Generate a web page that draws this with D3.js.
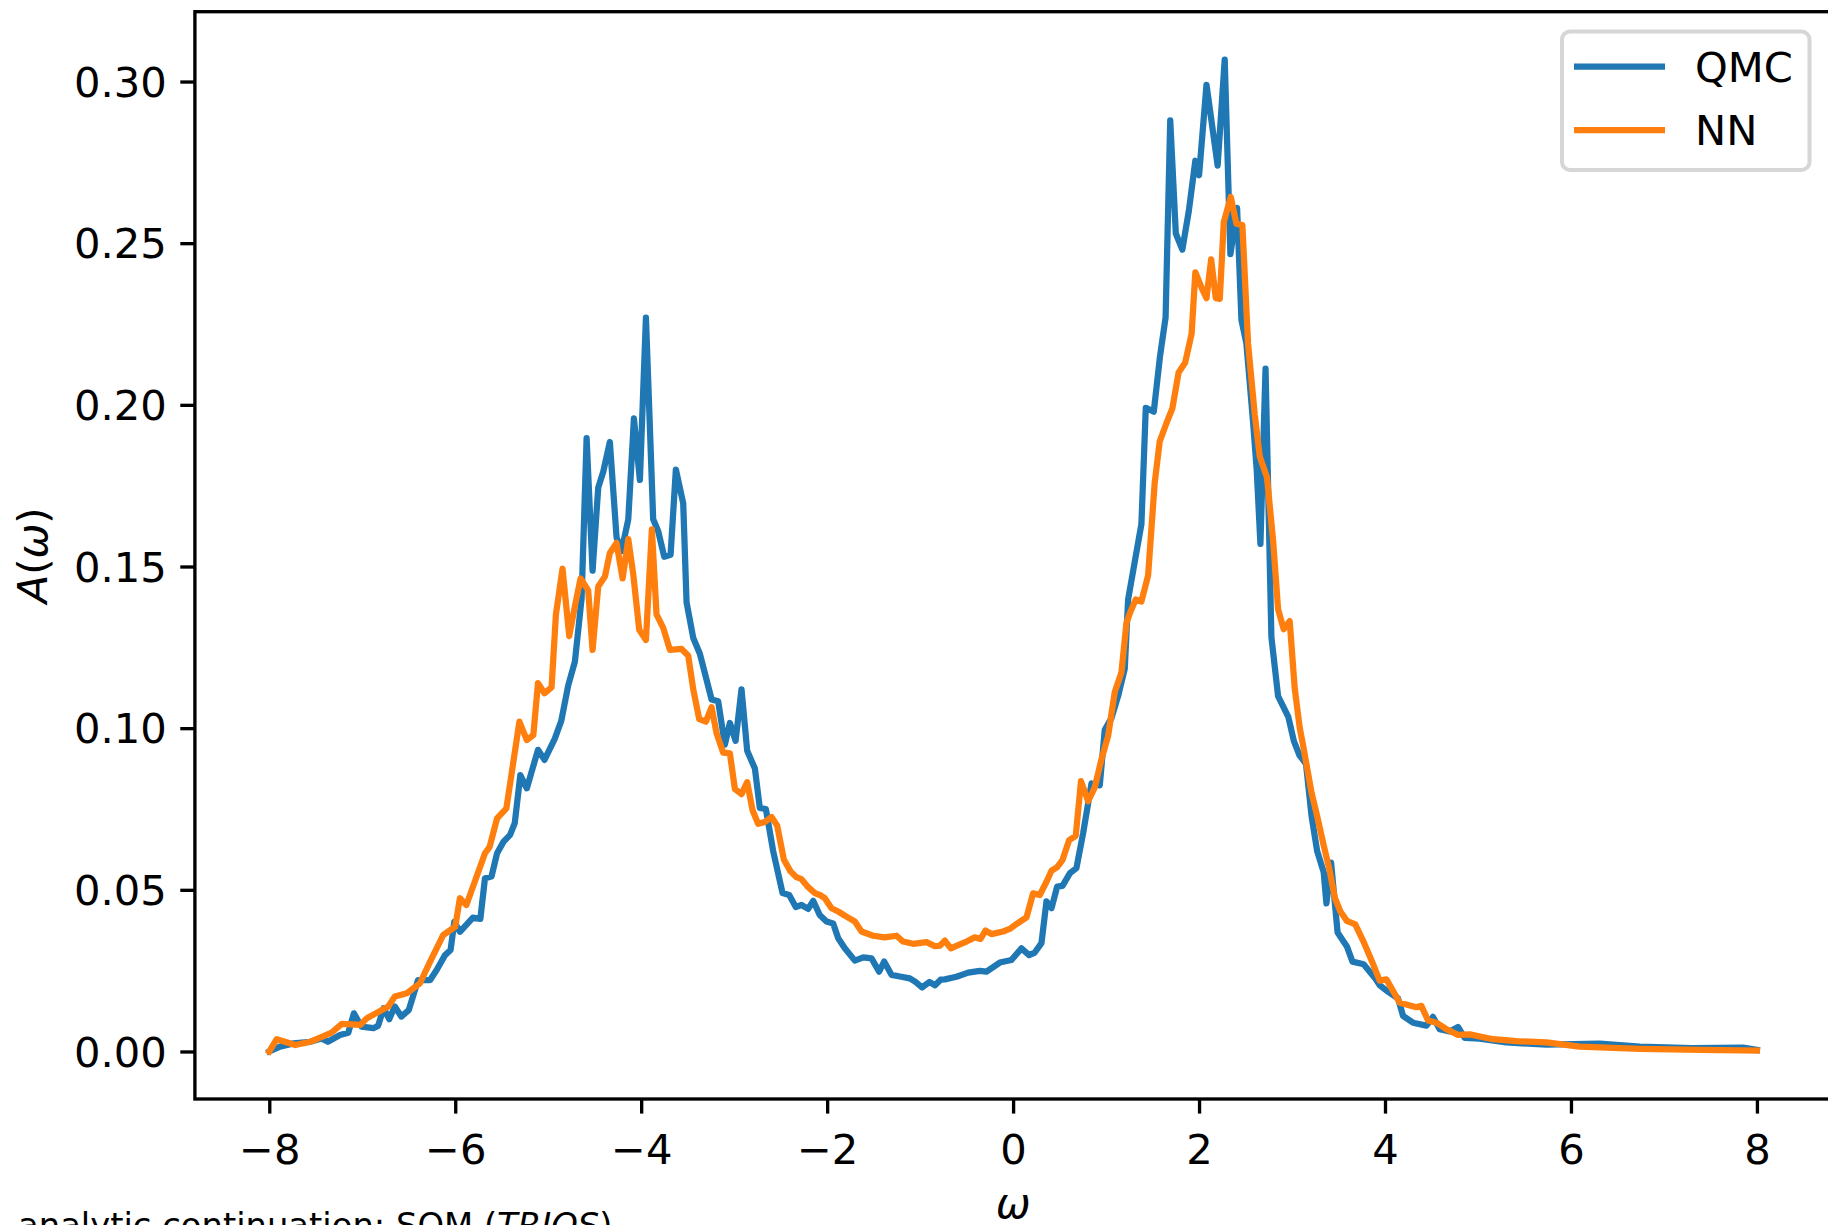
<!DOCTYPE html>
<html>
<head>
<meta charset="utf-8">
<script src="https://cdn.jsdelivr.net/npm/d3@7"></script>
<style>
    html, body { margin: 0; padding: 0; background: #fff; overflow: hidden; }
    svg { display: block; font-family: "DejaVu Sans", sans-serif; }
</style>
</head>
<body>
<div id="chart"></div>
<script>
// QMC spectral function
const qmcOmega = [
    -8.00, -7.885, -7.74, -7.56, -7.44, -7.37, -7.24, -7.15, -7.09, -7.01,
    -6.88, -6.83, -6.77, -6.71, -6.65, -6.58, -6.50, -6.40, -6.27, -6.20,
    -6.11, -6.05, -6.01, -5.95, -5.81, -5.73, -5.68, -5.61, -5.55, -5.48,
    -5.41, -5.36, -5.30, -5.23, -5.11, -5.04, -4.93, -4.86, -4.785, -4.713,
    -4.641, -4.587, -4.523, -4.462, -4.408, -4.337, -4.265, -4.211, -4.139, -4.078,
    -4.014, -3.949, -3.871, -3.817, -3.752, -3.684, -3.627, -3.548, -3.512, -3.44,
    -3.369, -3.243, -3.172, -3.10, -3.046, -2.985, -2.921, -2.86, -2.777, -2.724,
    -2.659, -2.58, -2.48, -2.408, -2.337, -2.276, -2.204, -2.15, -2.08, -2.007,
    -1.935, -1.881, -1.81, -1.702, -1.612, -1.523, -1.441, -1.387, -1.308, -1.218,
    -1.111, -1.05, -0.98, -0.90, -0.84, -0.78, -0.734, -0.609, -0.483, -0.358,
    -0.286, -0.143, -0.018, 0.09, 0.172, 0.233, 0.305, 0.359, 0.413, 0.474,
    0.531, 0.61, 0.681, 0.753, 0.843, 0.932, 0.986, 1.058, 1.129, 1.201,
    1.237, 1.308, 1.38, 1.427, 1.513, 1.58, 1.64, 1.69, 1.75, 1.82,
    1.89, 1.96, 2.00, 2.08, 2.20, 2.276, 2.337, 2.409, 2.456, 2.509,
    2.58, 2.62, 2.66, 2.715, 2.778, 2.85, 2.96, 3.02, 3.08, 3.15,
    3.21, 3.27, 3.34, 3.37, 3.42, 3.49, 3.59, 3.65, 3.77, 3.90,
    3.943, 4.033, 4.14, 4.194, 4.301, 4.445, 4.516, 4.588, 4.696, 4.785,
    4.857, 5.018, 5.305, 5.735, 6.308, 6.74, 7.30, 7.85, 8.00
];
const qmcValues = [
    0.0000, 0.0015, 0.0025, 0.0030, 0.0040, 0.0030, 0.0051, 0.0058, 0.0118, 0.0077,
    0.0072, 0.0079, 0.0134, 0.0100, 0.0139, 0.0108, 0.0128, 0.0221, 0.0221, 0.0252,
    0.0298, 0.0314, 0.0401, 0.0370, 0.0414, 0.0410, 0.0536, 0.0541, 0.0613, 0.0649,
    0.0670, 0.0706, 0.0855, 0.0814, 0.0933, 0.0902, 0.0967, 0.1022, 0.1132, 0.1206,
    0.1401, 0.1897, 0.1487, 0.1744, 0.1793, 0.1885, 0.1590, 0.1548, 0.1646, 0.1958,
    0.1768, 0.2270, 0.1646, 0.1609, 0.1530, 0.1536, 0.1800, 0.1695, 0.1389, 0.1279,
    0.1230, 0.1089, 0.1083, 0.0949, 0.1016, 0.0961, 0.1120, 0.0930, 0.0875, 0.0753,
    0.0750, 0.0619, 0.0490, 0.0484, 0.0447, 0.0453, 0.0441, 0.0466, 0.0422, 0.0402,
    0.0396, 0.0350, 0.0319, 0.0281, 0.0291, 0.0288, 0.0247, 0.0278, 0.0237, 0.0232,
    0.0226, 0.0215, 0.0198, 0.0215, 0.0205, 0.0222, 0.0223, 0.0231, 0.0244, 0.0249,
    0.0247, 0.0275, 0.0283, 0.0319, 0.0298, 0.0306, 0.0335, 0.0464, 0.0443, 0.0510,
    0.0512, 0.0551, 0.0567, 0.0675, 0.0829, 0.0823, 0.0995, 0.1031, 0.1099, 0.1184,
    0.1398, 0.1514, 0.1631, 0.1991, 0.1979, 0.2150, 0.2270, 0.2880, 0.2530, 0.2480,
    0.2600, 0.2755, 0.2710, 0.2990, 0.2740, 0.3068, 0.2466, 0.2609, 0.2262, 0.2190,
    0.1950, 0.1800, 0.1570, 0.2112, 0.1282, 0.1099, 0.1035, 0.0960, 0.0916, 0.0890,
    0.0728, 0.0620, 0.0555, 0.0458, 0.0584, 0.0368, 0.0325, 0.0278, 0.0270, 0.0224,
    0.0205, 0.0185, 0.0164, 0.0110, 0.0089, 0.0080, 0.0107, 0.0069, 0.0062, 0.0076,
    0.0042, 0.0040, 0.0028, 0.0021, 0.0024, 0.0015, 0.0010, 0.0012, 0.0005
];

// NN prediction
const nnOmega = [
    -8.00, -7.92, -7.72, -7.56, -7.33, -7.22, -7.02, -6.95, -6.72, -6.65,
    -6.52, -6.38, -6.27, -6.13, -6.00, -5.95, -5.88, -5.68, -5.63, -5.55,
    -5.45, -5.31, -5.23, -5.16, -5.11, -5.04, -4.964, -4.917, -4.846, -4.774,
    -4.713, -4.652, -4.57, -4.523, -4.462, -4.39, -4.337, -4.265, -4.20, -4.139,
    -4.085, -4.021, -3.949, -3.885, -3.835, -3.763, -3.691, -3.566, -3.494, -3.44,
    -3.376, -3.304, -3.243, -3.19, -3.118, -3.046, -2.992, -2.921, -2.86, -2.803,
    -2.742, -2.67, -2.598, -2.537, -2.466, -2.394, -2.33, -2.276, -2.204, -2.132,
    -2.079, -2.025, -1.953, -1.881, -1.792, -1.702, -1.63, -1.505, -1.38, -1.254,
    -1.183, -1.075, -0.932, -0.842, -0.788, -0.734, -0.67, -0.591, -0.501, -0.412,
    -0.351, -0.297, -0.233, -0.107, -0.036, 0.036, 0.144, 0.215, 0.287, 0.359,
    0.413, 0.474, 0.531, 0.603, 0.674, 0.730, 0.807, 0.878, 0.95, 1.022,
    1.093, 1.165, 1.219, 1.255, 1.319, 1.38, 1.452, 1.523, 1.577, 1.649,
    1.713, 1.78, 1.85, 1.92, 1.96, 2.03, 2.08, 2.13, 2.18, 2.223,
    2.266, 2.341, 2.402, 2.466, 2.527, 2.599, 2.653, 2.731, 2.796, 2.85,
    2.91, 2.975, 3.029, 3.083, 3.12, 3.21, 3.27, 3.34, 3.40, 3.46,
    3.52, 3.59, 3.68, 3.77, 3.86, 3.943, 4.015, 4.158, 4.337, 4.391,
    4.463, 4.552, 4.66, 4.785, 4.911, 5.162, 5.413, 5.735, 6.093, 6.74,
    7.40, 8.00
];
const nnValues = [
    0.0000, 0.0038, 0.0020, 0.0030, 0.0058, 0.0085, 0.0082, 0.0103, 0.0139, 0.0170,
    0.0180, 0.0211, 0.0278, 0.0360, 0.0386, 0.0474, 0.0453, 0.0613, 0.0633, 0.0721,
    0.0752, 0.1020, 0.0963, 0.0979, 0.1139, 0.1108, 0.1126, 0.1352, 0.1493, 0.1285,
    0.1377, 0.1463, 0.1426, 0.1242, 0.1438, 0.1469, 0.1542, 0.1573, 0.1463, 0.1585,
    0.1475, 0.1304, 0.1273, 0.1615, 0.1352, 0.1310, 0.1242, 0.1245, 0.1224, 0.1120,
    0.1028, 0.1020, 0.1065, 0.0985, 0.0924, 0.0922, 0.0812, 0.0796, 0.0833, 0.0747,
    0.0704, 0.0710, 0.0725, 0.0698, 0.0594, 0.0557, 0.0539, 0.0533, 0.0508, 0.0490,
    0.0484, 0.0474, 0.0443, 0.0433, 0.0417, 0.0402, 0.0371, 0.0358, 0.0353, 0.0358,
    0.0340, 0.0333, 0.0338, 0.0326, 0.0327, 0.0343, 0.0319, 0.0329, 0.0340, 0.0353,
    0.0348, 0.0374, 0.0363, 0.0371, 0.0379, 0.0394, 0.0415, 0.0489, 0.0484, 0.0525,
    0.0559, 0.0570, 0.0592, 0.0654, 0.0667, 0.0836, 0.0774, 0.0817, 0.0903, 0.0976,
    0.1111, 0.1172, 0.1325, 0.1355, 0.1398, 0.1392, 0.1472, 0.1759, 0.1887, 0.1943,
    0.1989, 0.2100, 0.2130, 0.2220, 0.2410, 0.2360, 0.2330, 0.2450, 0.2330, 0.2328,
    0.2565, 0.2643, 0.2560, 0.2556, 0.2190, 0.1970, 0.1840, 0.1775, 0.1582, 0.1368,
    0.1306, 0.1331, 0.1123, 0.1001, 0.0945, 0.0800, 0.0728, 0.0638, 0.0566, 0.0476,
    0.0433, 0.0404, 0.0393, 0.0339, 0.0278, 0.0219, 0.0223, 0.0151, 0.0137, 0.0141,
    0.0096, 0.0089, 0.0069, 0.0051, 0.0053, 0.0038, 0.0032, 0.0028, 0.0015, 0.0008,
    0.0005, 0.0003
];

const xTicks = [-8, -6, -4, -2, 0, 2, 4, 6, 8];
const yTicks = [0.00, 0.05, 0.10, 0.15, 0.20, 0.25, 0.30];
const seriesNames = ['QMC', 'NN'];
const seriesColors = ['#1f77b4', '#ff7f0e'];

const W = 1828, H = 1225;
const FONT = 41.7;           // 10pt at 300 dpi
const LW = 6.25;             // 1.5pt lines
const SPINE = 3.33;          // 0.8pt spines / ticks
const TICK = 14.6;

const svg = d3.select('#chart').append('svg')
    .attr('width', W)
    .attr('height', H)
    .attr('viewBox', [0, 0, W, H]);

const x = d3.scaleLinear().domain([-8.8, 8.8]).range([194.9, 1831.3]);
const y = d3.scaleLinear().domain([-0.0147, 0.3216]).range([1099, 11.7]);

const minus = s => String(s).replace('-', '\u2212');

// lines
const line = d3.line()
    .x(d => x(d[0]))
    .y(d => y(d[1]));

const series = [
    d3.zip(qmcOmega, qmcValues),
    d3.zip(nnOmega, nnValues)
];

const g = svg.append('g');
series.forEach((pts, i) => {
    g.append('path')
        .datum(pts)
        .attr('d', line)
        .attr('fill', 'none')
        .attr('stroke', seriesColors[i])
        .attr('stroke-width', LW)
        .attr('stroke-linejoin', 'round')
        .attr('stroke-linecap', 'square');
});

// spines
const [x0, x1] = x.range();
const [yb, yt] = y.range();
svg.append('rect')
    .attr('x', x0).attr('y', yt)
    .attr('width', x1 - x0).attr('height', yb - yt)
    .attr('fill', 'none')
    .attr('stroke', '#000')
    .attr('stroke-width', SPINE);

// x axis
const xAxis = svg.append('g')
    .attr('transform', `translate(0,${yb})`)
    .call(d3.axisBottom(x).tickValues(xTicks).tickSize(TICK).tickSizeOuter(0).tickFormat(minus));
xAxis.select('.domain').remove();
xAxis.selectAll('.tick line').attr('stroke', '#000').attr('stroke-width', SPINE);
xAxis.selectAll('.tick text')
    .attr('y', 65).attr('dy', 0)
    .attr('fill', '#000')
    .style('font-size', FONT + 'px')
    .style('font-family', '"DejaVu Sans"');

// y axis
const yAxis = svg.append('g')
    .attr('transform', `translate(${x0},0)`)
    .call(d3.axisLeft(y).tickValues(yTicks).tickSize(TICK).tickSizeOuter(0).tickFormat(d3.format('.2f')));
yAxis.select('.domain').remove();
yAxis.selectAll('.tick line').attr('stroke', '#000').attr('stroke-width', SPINE);
yAxis.selectAll('.tick text')
    .attr('x', -28.1).attr('dy', '0.35em')
    .attr('fill', '#000')
    .style('font-size', FONT + 'px')
    .style('font-family', '"DejaVu Sans"');

// axis labels (partly cut by the bottom edge, as in the original figure)
svg.append('text')
    .attr('x', x(0)).attr('y', 1218)
    .attr('text-anchor', 'middle')
    .style('font-size', FONT + 'px')
    .style('font-style', 'italic')
    .text('\u03c9');

const yl = svg.append('text')
    .attr('transform', `translate(47,${(yb + yt) / 2}) rotate(-90)`)
    .attr('text-anchor', 'middle')
    .style('font-size', FONT + 'px');
yl.append('tspan').style('font-style', 'italic').text('A');
yl.append('tspan').text('(');
yl.append('tspan').style('font-style', 'italic').text('\u03c9');
yl.append('tspan').text(')');

// footnote
const note = svg.append('text')
    .attr('x', 18).attr('y', 1237)
    .style('font-size', '33.8px');
note.append('tspan').text('analytic continuation: SOM (');
note.append('tspan').style('font-style', 'italic').text('TRIQS');
note.append('tspan').text(')');

// legend
const legend = svg.append('g');
legend.append('rect')
    .attr('x', 1562).attr('y', 31.5)
    .attr('width', 247.5).attr('height', 138.5)
    .attr('rx', 8)
    .attr('fill', '#fff').attr('fill-opacity', 0.8)
    .attr('stroke', '#d6d6d6').attr('stroke-width', 4);
seriesNames.forEach((name, i) => {
    const ly = 66.7 + i * 63.3;
    legend.append('line')
        .attr('x1', 1574).attr('x2', 1665)
        .attr('y1', ly).attr('y2', ly)
        .attr('stroke', seriesColors[i])
        .attr('stroke-width', LW);
    legend.append('text')
        .attr('x', 1695).attr('y', ly).attr('dy', '0.36em')
        .style('font-size', FONT + 'px')
        .text(name);
});
</script>
</body>
</html>
